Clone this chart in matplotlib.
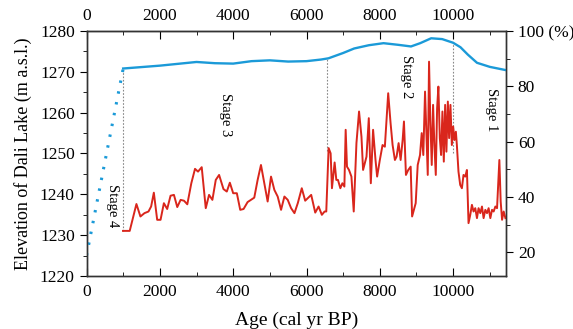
import matplotlib
matplotlib.use("Agg")
import matplotlib.pyplot as plt
from matplotlib.ticker import MultipleLocator

plt.rcParams["font.family"] = "Liberation Serif"

# Seespiegel (linke Achse, m a.s.l.)
lake_age = [1000, 2000, 3000, 3500, 4000, 4500, 5000, 5500, 6000, 6400, 6600, 7000,
            7300, 7700, 8100, 8500, 8850, 9100, 9400, 9700, 10000, 10200, 10400,
            10650, 11000, 11440]
lake_elev = [1270.8, 1271.5, 1272.4, 1272.1, 1272.0, 1272.6, 1272.8, 1272.5, 1272.6,
             1273.0, 1273.3, 1274.6, 1275.7, 1276.5, 1277.0, 1276.6, 1276.2, 1277.0,
             1278.2, 1278.0, 1277.1, 1276.0, 1274.2, 1272.2, 1271.2, 1270.4]
# extrapolierter Teil (gepunktet)
lake_ext_age = [0, 1000]
lake_ext_elev = [1225.0, 1270.8]

# Proxy (rechte Achse, %)
proxy_age = [995, 1178, 1361, 1470, 1580, 1690, 1762, 1836, 1927, 2019, 2110, 2200,
             2292, 2384, 2475, 2566, 2658, 2749, 2858, 2959, 3041, 3142, 3252, 3342,
             3433, 3525, 3616, 3735, 3826, 3909, 4000, 4100, 4192, 4283, 4393, 4484,
             4575, 4667, 4758, 4849, 4940, 5032, 5123, 5214, 5306, 5397, 5488, 5580,
             5671, 5762, 5871, 5964, 6128, 6238, 6329, 6419, 6493, 6539, 6603, 6658,
             6694, 6767, 6813, 6858, 6923, 6978, 7033, 7068, 7104, 7159, 7225, 7288,
             7362, 7433, 7499, 7543, 7636, 7699, 7754, 7816, 7882, 7926, 8000, 8074,
             8137, 8228, 8293, 8348, 8411, 8457, 8512, 8567, 8622, 8658, 8712, 8775,
             8841, 8880, 8978, 9033, 9096, 9142, 9186, 9233, 9268, 9307, 9342, 9378,
             9416, 9452, 9488, 9526, 9562, 9597, 9636, 9671, 9707, 9745, 9781, 9816,
             9855, 9890, 9926, 9964, 10000, 10036, 10074, 10101, 10145, 10192, 10238,
             10282, 10329, 10375, 10419, 10466, 10512, 10556, 10603, 10649, 10693,
             10740, 10786, 10830, 10877, 10923, 10967, 11014, 11060, 11104, 11151,
             11197, 11260, 11296, 11334, 11378, 11425]
proxy_val = [27.8, 27.8, 37.5, 33.0, 34.2, 34.8, 36.6, 41.6, 31.8, 31.8, 37.8, 35.7,
             40.5, 40.8, 36.4, 39.0, 38.7, 37.4, 45.0, 50.2, 49.2, 50.8, 36.0, 40.8,
             39.0, 46.2, 48.0, 42.9, 42.0, 45.2, 41.4, 41.4, 35.4, 35.7, 38.2, 39.0,
             39.8, 46.2, 51.6, 45.0, 38.4, 47.4, 42.6, 40.2, 35.4, 40.2, 39.0, 36.0,
             34.2, 37.8, 43.2, 38.7, 40.8, 34.4, 36.6, 33.6, 34.8, 34.8, 57.7, 55.8,
             43.2, 52.5, 46.2, 46.2, 43.2, 45.0, 43.8, 64.3, 51.0, 49.8, 47.4, 34.8,
             59.5, 70.9, 61.8, 49.8, 54.6, 68.5, 45.0, 64.3, 53.4, 47.4, 53.4, 58.8,
             58.2, 77.5, 66.7, 58.8, 53.4, 54.6, 59.5, 53.4, 60.6, 67.3, 48.0, 49.8,
             51.0, 33.0, 37.8, 51.6, 55.2, 63.1, 55.2, 78.1, 63.6, 48.0, 88.9, 67.3,
             51.6, 73.3, 58.8, 48.0, 72.1, 79.9, 61.3, 55.2, 70.9, 52.8, 73.3, 56.4,
             74.5, 61.3, 73.3, 58.8, 65.5, 60.6, 63.6, 58.8, 49.2, 44.4, 43.2,
             48.0, 47.4, 49.8, 30.6, 33.6, 37.2, 34.8, 36.0, 32.4, 36.0,
             34.2, 36.6, 32.4, 35.4, 34.2, 36.0, 32.4, 35.4, 34.8, 36.6,
             36.0, 53.4, 38.4, 31.8, 34.8, 32.4]

# Stufen-Grenzen und Beschriftungen
stage_bounds = [1000, 6560, 10000]
stage_bottom = [1231.0, 1250.5, 1250.2]
stage_top = [1270.8, 1273.3, 1277.1]
stage_names = ["Stage 4", "Stage 3", "Stage 2", "Stage 1"]
stage_x = [720, 3800, 8720, 11050]
stage_y = [1237.2, 1259.4, 1268.7, 1260.6]

blue = "#1b9ad8"
red = "#d9261c"

fig = plt.figure(figsize=(5.73, 3.29), dpi=100)
ax = fig.add_axes([0.151, 0.161, 0.732, 0.745])

ax.plot(lake_age, lake_elev, color=blue, lw=1.7, zorder=3)
ax.plot(lake_ext_age, lake_ext_elev, color=blue, lw=2.2, linestyle=(0, (0.8, 2.8)),
        zorder=3)
ax.vlines(stage_bounds, stage_bottom, stage_top, colors="#888888", lw=0.8,
          linestyles=(0, (1.5, 1.5)), zorder=2)
for name, sx, sy in zip(stage_names, stage_x, stage_y):
    ax.text(sx, sy, name, rotation=-90, ha="center", va="center", fontsize=10.5)

ax.set_xlim(0, 11440)
ax.set_ylim(1220, 1280)
ax.xaxis.set_major_locator(MultipleLocator(2000))
ax.xaxis.set_minor_locator(MultipleLocator(1000))
ax.yaxis.set_major_locator(MultipleLocator(10))
ax.yaxis.set_minor_locator(MultipleLocator(5))
ax.tick_params(axis="x", which="both", direction="in", labelsize=12.5, pad=6)
ax.tick_params(axis="x", which="major", length=6)
ax.tick_params(axis="x", which="minor", length=3)
ax.tick_params(axis="y", which="both", direction="out", labelsize=12.5)
ax.tick_params(axis="y", which="major", length=5)
ax.tick_params(axis="y", which="minor", length=3)
ax.set_xlabel("Age (cal yr BP)", fontsize=14, labelpad=8)
ax.set_ylabel("Elevation of Dali Lake (m a.s.l.)", fontsize=13, labelpad=6)

top = ax.secondary_xaxis("top")
top.xaxis.set_major_locator(MultipleLocator(2000))
top.xaxis.set_minor_locator(MultipleLocator(1000))
top.tick_params(axis="x", which="both", direction="in", labelsize=12.5, pad=5)
top.tick_params(axis="x", which="major", length=6)
top.tick_params(axis="x", which="minor", length=3)

ax2 = ax.twinx()
ax2.plot(proxy_age, proxy_val, color=red, lw=1.4)
ax2.set_ylim(11.5, 100)
ax2.set_yticks([20, 40, 60, 80, 100])
ax2.set_yticklabels(["20", "40", "60", "80", "100 (%)"])
ax2.yaxis.set_minor_locator(MultipleLocator(10))
ax2.tick_params(axis="y", which="both", direction="out", labelsize=12.5)
ax2.tick_params(axis="y", which="major", length=5)
ax2.tick_params(axis="y", which="minor", length=3)

for a in (ax, ax2):
    for s in a.spines.values():
        s.set_color("#333333")
        s.set_linewidth(1.0)

fig.savefig("out.png", dpi=100)
